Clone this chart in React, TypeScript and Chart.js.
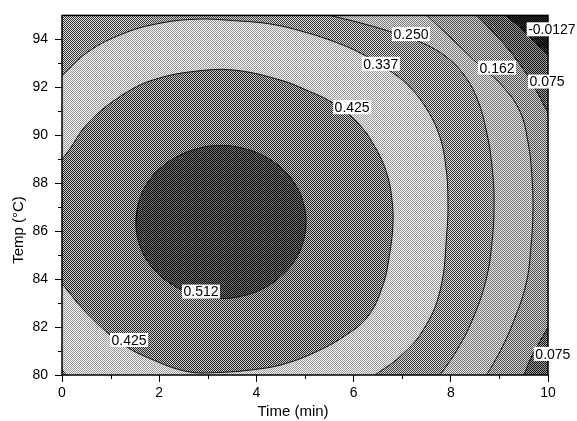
import React, { useEffect, useRef } from 'react';
import { Chart, registerables } from 'chart.js';

Chart.register(...registerables);

// Axis ranges and ticks
const TIME_RANGE = [0, 10];
const TEMP_RANGE = [80, 95];
const TIME_TICKS = [0, 2, 4, 6, 8, 10];
const TEMP_TICKS = [80, 82, 84, 86, 88, 90, 92, 94];
const TIME_MINOR_TICKS = [1, 3, 5, 7, 9];
const TEMP_MINOR_TICKS = [81, 83, 85, 87, 89, 91, 93];

// Contour lines as [time (min), temp (°C)] points
const LINE_M0127 = [[9.12, 95], [9.47, 94.42], [9.77, 93.81], [10, 93.31]];
const LINE_0075_TOP = [[8.54, 95], [8.91, 94.22], [9.26, 93.4], [9.61, 92.4], [9.77, 91.83], [10, 90.93]];
const LINE_0075_BOTTOM = [[10, 81.99], [9.79, 81.25], [9.63, 80.64], [9.51, 80]];
const LINE_0162 = [
  [7.51, 95], [8.09, 93.89], [8.6, 92.9], [9.05, 92.08], [9.42, 91.01], [9.59, 89.69],
  [9.67, 88.25], [9.69, 86.81], [9.65, 85.37], [9.55, 83.81], [9.3, 82.28], [9.03, 81.05], [8.74, 80],
];
const LINE_0250 = [
  [5.51, 95], [6.17, 94.67], [6.79, 94.3], [7.37, 93.89], [7.88, 93.31], [8.25, 92.57],
  [8.54, 91.54], [8.74, 90.1], [8.85, 88.66], [8.89, 87.22], [8.85, 85.58], [8.72, 83.93],
  [8.44, 82.28], [8.13, 81.05], [7.78, 80],
];
const LINE_0337 = [
  [0, 92.49], [0.535, 93.48], [1.235, 94.22], [1.91, 94.63], [2.74, 94.84], [3.62, 94.77],
  [4.32, 94.63], [5.0, 94.3], [5.62, 93.89], [6.17, 93.4], [6.71, 92.74], [7.16, 92.0],
  [7.53, 91.01], [7.78, 89.9], [7.9, 88.66], [7.94, 87.43], [7.92, 85.99], [7.78, 83.52],
  [7.43, 81.87], [6.95, 80.76], [6.44, 80],
];
const LINE_0337_CORNER = [[0.1, 80], [0.04, 80.12], [0, 80.23]];
const LINE_0425 = [
  [0, 88.99], [0.165, 89.44], [0.535, 90.51], [1.235, 91.67], [1.91, 92.33], [2.88, 92.7],
  [3.62, 92.7], [4.53, 92.28], [5.0, 91.91], [5.58, 91.34], [6.09, 90.51], [6.46, 89.44],
  [6.69, 88.37], [6.79, 87.3], [6.81, 86.32], [6.75, 85.16], [6.6, 83.72], [6.28, 82.41],
  [5.78, 81.58], [5.23, 80.97], [4.59, 80.47], [3.97, 80.23], [3.15, 80.1], [2.59, 80.14],
  [1.91, 80.6], [1.235, 81.3], [0.535, 82.53], [0, 83.81],
];
const LINE_0512 = [
  [1.52, 86.38], [1.58, 87.21], [1.75, 87.98], [2.03, 88.64], [2.4, 89.14], [2.82, 89.46],
  [3.27, 89.57], [3.72, 89.46], [4.15, 89.14], [4.51, 88.64], [4.79, 87.98], [4.96, 87.21],
  [5.02, 86.38], [4.96, 85.55], [4.79, 84.78], [4.51, 84.13], [4.15, 83.62], [3.72, 83.3],
  [3.27, 83.19], [2.82, 83.3], [2.4, 83.62], [2.03, 84.13], [1.75, 84.78], [1.58, 85.55],
  [1.52, 86.38], [1.58, 87.21],
];

// Contour level labels and where they sit
const LABEL_TEXT = ['-0.0127', '0.075', '0.162', '0.250', '0.337', '0.425', '0.512', '0.425', '0.075'];
const LABEL_TIME = [10.08, 9.98, 8.95, 7.18, 6.56, 5.97, 2.86, 1.38, 10.1];
const LABEL_TEMP = [94.42, 92.24, 92.82, 94.22, 92.98, 91.17, 83.48, 81.46, 80.88];

const X_TITLE = 'Time (min)';
const Y_TITLE = 'Temp (°C)';

const FAMILY = '"Liberation Sans", Arial, Helvetica, sans-serif';
const LABEL_FONT = `14px ${FAMILY}`;
const TITLE_FONT = `15px ${FAMILY}`;

const LINES = [
  LINE_M0127, LINE_0075_TOP, LINE_0075_BOTTOM, LINE_0162, LINE_0250,
  LINE_0337, LINE_0337_CORNER, LINE_0425, LINE_0512,
];

// halftone shades for each band, lowest to highest: [dark dot, light dot]
const SHADES: [number, number][] = [
  [0, 45],
  [15, 160],
  [75, 215],
  [118, 230],
  [60, 215],
  [155, 242],
  [38, 200],
  [10, 110],
];

function makePattern(ctx: CanvasRenderingContext2D, dark: number, light: number) {
  const c = document.createElement('canvas');
  c.width = 2;
  c.height = 2;
  const g = c.getContext('2d')!;
  g.fillStyle = `rgb(${light},${light},${light})`;
  g.fillRect(0, 0, 2, 2);
  g.fillStyle = `rgb(${dark},${dark},${dark})`;
  g.fillRect(0, 0, 1, 1);
  g.fillRect(1, 1, 1, 1);
  return ctx.createPattern(c, 'repeat')!;
}

type Step = { line: number } | { corner: [number, number] };

// Each band is the area on the high side of its contour, closed along the plot edges
function buildRegions(): Step[][] {
  const [x0, x1] = TIME_RANGE;
  const [y0, y1] = TEMP_RANGE;
  return [
    [{ corner: [x0, y1] }, { line: 0 }, { corner: [x1, y0] }, { corner: [x0, y0] }],
    [{ corner: [x0, y1] }, { line: 1 }, { line: 2 }, { corner: [x0, y0] }],
    [{ corner: [x0, y1] }, { line: 3 }, { corner: [x0, y0] }],
    [{ corner: [x0, y1] }, { line: 4 }, { corner: [x0, y0] }],
    [{ line: 5 }, { line: 6 }],
    [{ line: 7 }],
    [{ line: 8 }],
  ];
}

const contourPlugin = {
  id: 'contourBands',
  beforeDatasetsDraw(chart: any) {
    const { ctx, chartArea: a, scales } = chart;
    const xs = scales.x;
    const ys = scales.y;
    ctx.save();
    ctx.beginPath();
    ctx.rect(a.left, a.top, a.right - a.left, a.bottom - a.top);
    ctx.clip();
    ctx.fillStyle = makePattern(ctx, SHADES[0][0], SHADES[0][1]);
    ctx.fillRect(a.left, a.top, a.right - a.left, a.bottom - a.top);
    buildRegions().forEach((steps, ri) => {
      ctx.beginPath();
      let started = false;
      steps.forEach((s) => {
        if ('corner' in s) {
          const px = xs.getPixelForValue(s.corner[0]);
          const py = ys.getPixelForValue(s.corner[1]);
          if (started) ctx.lineTo(px, py);
          else ctx.moveTo(px, py);
          started = true;
        } else {
          const meta = chart.getDatasetMeta(s.line);
          if (meta.dataset && meta.dataset.updateControlPoints) {
            meta.dataset.updateControlPoints(a, 'x');
          }
          const pts = meta.data;
          pts.forEach((p: any, i: number) => {
            if (i === 0) {
              if (started) ctx.lineTo(p.x, p.y);
              else ctx.moveTo(p.x, p.y);
              started = true;
              return;
            }
            const q = pts[i - 1];
            if (q.cp2x !== undefined && p.cp1x !== undefined) {
              ctx.bezierCurveTo(q.cp2x, q.cp2y, p.cp1x, p.cp1y, p.x, p.y);
            } else {
              ctx.lineTo(p.x, p.y);
            }
          });
        }
      });
      ctx.closePath();
      const sh = SHADES[ri + 1];
      ctx.fillStyle = makePattern(ctx, sh[0], sh[1]);
      ctx.fill();
    });
    ctx.restore();
  },
  afterDatasetsDraw(chart: any) {
    const { ctx, chartArea: a, scales } = chart;
    const xs = scales.x;
    const ys = scales.y;
    ctx.save();
    // plot frame
    ctx.strokeStyle = '#000';
    ctx.lineWidth = 1.5;
    ctx.strokeRect(a.left, a.top, a.right - a.left, a.bottom - a.top);
    // minor ticks
    ctx.lineWidth = 1;
    ctx.beginPath();
    TIME_MINOR_TICKS.forEach((v) => {
      const px = Math.round(xs.getPixelForValue(v)) + 0.5;
      ctx.moveTo(px, a.bottom);
      ctx.lineTo(px, a.bottom + 4);
    });
    TEMP_MINOR_TICKS.forEach((v) => {
      const py = Math.round(ys.getPixelForValue(v)) + 0.5;
      ctx.moveTo(a.left, py);
      ctx.lineTo(a.left - 4, py);
    });
    ctx.stroke();
    // contour level labels on white boxes
    ctx.font = LABEL_FONT;
    ctx.textAlign = 'center';
    ctx.textBaseline = 'middle';
    LABEL_TEXT.forEach((t, i) => {
      const cx = xs.getPixelForValue(LABEL_TIME[i]);
      const cy = ys.getPixelForValue(LABEL_TEMP[i]);
      const w = ctx.measureText(t).width;
      ctx.fillStyle = '#fff';
      ctx.fillRect(cx - w / 2 - 1.5, cy - 7, w + 3, 14);
      ctx.fillStyle = '#000';
      ctx.fillText(t, cx, cy + 1);
    });
    ctx.restore();
  },
  afterDraw(chart: any) {
    const { ctx } = chart;
    ctx.save();
    ctx.font = TITLE_FONT;
    ctx.fillStyle = '#000';
    ctx.textAlign = 'center';
    ctx.textBaseline = 'middle';
    ctx.fillText(X_TITLE, 293, 412);
    ctx.translate(19, 230);
    ctx.rotate(-Math.PI / 2);
    ctx.fillText(Y_TITLE, 0, 0);
    ctx.restore();
  },
};

export default function App() {
  const ref = useRef<HTMLCanvasElement>(null);

  useEffect(() => {
    const canvas = ref.current!;
    const datasets = LINES.map((pts) => ({
      data: pts.map(([x, y]) => ({ x, y })),
      showLine: true,
      borderColor: '#111',
      borderWidth: 1,
      pointRadius: 0,
      tension: 0.4,
      fill: false,
    }));
    const tickFont = { family: FAMILY, size: 14 };
    const chart = new Chart(canvas, {
      type: 'scatter',
      data: { datasets },
      options: {
        animation: false,
        responsive: false,
        devicePixelRatio: 1,
        layout: { padding: { top: 11, right: 29, bottom: 0, left: 0 } },
        plugins: { legend: { display: false }, tooltip: { enabled: false } },
        events: [],
        scales: {
          x: {
            type: 'linear',
            min: TIME_RANGE[0],
            max: TIME_RANGE[1],
            afterBuildTicks: (s: any) => {
              s.ticks = TIME_TICKS.map((value) => ({ value }));
            },
            afterFit: (s: any) => {
              s.height = 46;
            },
            ticks: { font: tickFont, color: '#000', padding: 3, maxRotation: 0 },
            grid: { drawOnChartArea: false, drawTicks: true, tickLength: 7, tickColor: '#000', tickWidth: 1 },
            border: { display: false },
          },
          y: {
            type: 'linear',
            min: TEMP_RANGE[0],
            max: TEMP_RANGE[1],
            afterBuildTicks: (s: any) => {
              s.ticks = TEMP_TICKS.map((value) => ({ value }));
            },
            afterFit: (s: any) => {
              s.width = 62;
            },
            ticks: { font: tickFont, color: '#000', padding: 7 },
            grid: { drawOnChartArea: false, drawTicks: true, tickLength: 7, tickColor: '#000', tickWidth: 1 },
            border: { display: false },
          },
        },
      },
      plugins: [contourPlugin],
    } as any);
    return () => chart.destroy();
  }, []);

  return (
    <div style={{ position: 'fixed', left: 0, top: 0, width: 577, height: 421, background: '#fff' }}>
      <canvas ref={ref} width={577} height={421} style={{ display: 'block', width: 577, height: 421 }} />
    </div>
  );
}
